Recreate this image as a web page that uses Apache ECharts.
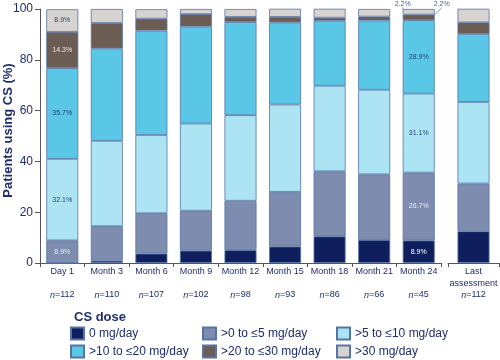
<!DOCTYPE html>
<html><head><meta charset="utf-8">
<script src="https://cdn.jsdelivr.net/npm/echarts@6/dist/echarts.min.js"></script>
<style>html,body{margin:0;padding:0;background:#fff}#c{width:500px;height:360px}</style>
</head><body><div id="c"></div>
<script>
// ---- data ----
const categories = ['Day 1','Month 3','Month 6','Month 9','Month 12','Month 15','Month 18','Month 21','Month 24','Last assessment'];
const nValues = [112,110,107,102,98,93,86,66,45,112];
const yTicks = [0,20,40,60,80,100];
const doseNames = ['0 mg/day','>0 to \u22645 mg/day','>5 to \u226410 mg/day','>10 to \u226420 mg/day','>20 to \u226430 mg/day','>30 mg/day'];
const dose0      = [0,   0.9, 3.7, 4.9, 5.1, 6.5, 10.5, 9.1, 8.9, 12.5];
const dose0to5   = [8.9, 13.6,15.9,15.7,19.4,21.5,25.6,25.8,26.7,18.8];
const dose5to10  = [32.1,33.6,30.8,34.3,33.7,34.4,33.7,33.3,31.1,32.1];
const dose10to20 = [35.7,36.4,41.1,38.2,36.7,32.3,25.6,27.3,28.9,26.8];
const dose20to30 = [14.3,10.0,4.7, 4.9, 2.0, 2.2, 1.2, 1.5, 2.2, 4.5];
const dose30plus = [8.9, 5.5, 3.7, 2.0, 3.1, 3.2, 3.5, 3.0, 2.2, 5.4];
const doseValues = [dose0,dose0to5,dose5to10,dose10to20,dose20to30,dose30plus];

// ---- style ----
const NAVY = '#1f2d6e';
const FONT = 'Liberation Sans, Arial, sans-serif';
const colors = ['#0f1f5e','#7e8cb0','#ade4f3','#5bc7e6','#6b5c54','#d6d3d1'];
const labelColors = ['#ffffff','#e9ecf4','#2b4080','#2b4080','#ece8e4','#2b4080'];
const labeled = {0:[8],1:[0,8],2:[0,8],3:[0,8],4:[0,8],5:[0,8]};
const moved = {4:{dx:23,dy:-13},5:{dx:-16,dy:-8}};
const legendPos = [[70,326.5],[202,326.5],[336,326.5],[70,344.5],[202,344.5],[336,344.5]];
const nMain = categories.length - 1;

const series = [];
doseValues.forEach((vals, s) => {
  const mainData = vals.slice(0, nMain).map((v, i) => {
    if (!(labeled[s] || []).includes(i)) return v;
    const item = {value: v, label: {show: true}};
    if (i === 8 && moved[s]) {
      item.label.color = '#4a5a92';
      item.labelLine = {show: true, lineStyle: {color: '#5e6fa3', width: 0.8}};
    }
    return item;
  });
  const common = {
    type: 'bar', name: doseNames[s], barWidth: 32,
    itemStyle: {color: colors[s], borderColor: '#5674a6', borderWidth: 0.8},
    emphasis: {disabled: true},
    label: {show: false, position: 'inside', fontSize: 7, fontFamily: FONT, color: labelColors[s],
            formatter: p => p.value.toFixed(1) + '%'}
  };
  series.push(Object.assign({}, common, {
    xAxisIndex: 0, yAxisIndex: 0, stack: 'main', data: mainData,
    labelLayout: p => (p.dataIndex === 8 && moved[s]) ? {dx: moved[s].dx, dy: moved[s].dy} : {}
  }));
  series.push(Object.assign({}, common, {
    xAxisIndex: 1, yAxisIndex: 1, stack: 'last', data: vals.slice(nMain)
  }));
});

const rich = {
  t: {fontSize: 9, color: NAVY, fontFamily: FONT, lineHeight: 11.6},
  i: {fontSize: 9, color: NAVY, fontFamily: FONT, fontStyle: 'italic', lineHeight: 11.6}
};
const axisLine = {show: true, lineStyle: {color: '#555', width: 1}};

const option = {
  animation: false,
  title: {text: 'CS dose', left: 69, top: 306, textStyle: {fontSize: 13, fontWeight: 'bold', color: NAVY, fontFamily: FONT}},
  legend: doseNames.map((name, k) => ({
    left: legendPos[k][0], top: legendPos[k][1], data: [name], orient: 'horizontal',
    itemWidth: 13, itemHeight: 12, icon: 'rect', selectedMode: false, padding: 0,
    textStyle: {fontSize: 12, color: NAVY, fontFamily: FONT}
  })),
  grid: [
    {left: 40, top: 9, width: 401, height: 254, outerBoundsMode: 'none', containLabel: false},
    {left: 448, top: 9, width: 51, height: 254, outerBoundsMode: 'none', containLabel: false}
  ],
  xAxis: [
    {type: 'category', gridIndex: 0, data: categories.slice(0, nMain),
     axisLine: axisLine, axisTick: {show: true, length: 4, lineStyle: {color: '#555'}},
     axisLabel: {interval: 0, margin: 3, rich: rich,
       formatter: (v, i) => '{t|' + v + '}\n{t| }\n{i|n}{t|=' + nValues[i] + '}'}},
    {type: 'category', gridIndex: 1, data: categories.slice(nMain),
     axisLine: axisLine, axisTick: {show: true, length: 4, lineStyle: {color: '#555'}},
     axisLabel: {interval: 0, margin: 3, rich: rich,
       formatter: v => v.split(' ').map(w => '{t|' + w + '}').join('\n') + '\n{i|n}{t|=' + nValues[nMain] + '}'}}
  ],
  yAxis: [
    {type: 'value', gridIndex: 0, min: yTicks[0], max: yTicks[yTicks.length - 1], interval: yTicks[1] - yTicks[0],
     name: 'Patients using CS (%)', nameLocation: 'middle', nameGap: 25, nameMoveOverlap: false,
     nameTextStyle: {fontSize: 13, fontWeight: 'bold', color: NAVY, fontFamily: FONT, padding: [0, 0, 0, 11]},
     axisLine: axisLine, axisTick: {show: true, length: 5, lineStyle: {color: '#555'}},
     axisLabel: {fontSize: 12, color: NAVY, fontFamily: FONT, margin: 7},
     splitLine: {show: false}},
    {type: 'value', gridIndex: 1, min: 0, max: 100, show: false, splitLine: {show: false}}
  ],
  series: series
};
const chart = echarts.init(document.getElementById('c'), null, {renderer: 'canvas'});
chart.setOption(option);
</script>
</body></html>
